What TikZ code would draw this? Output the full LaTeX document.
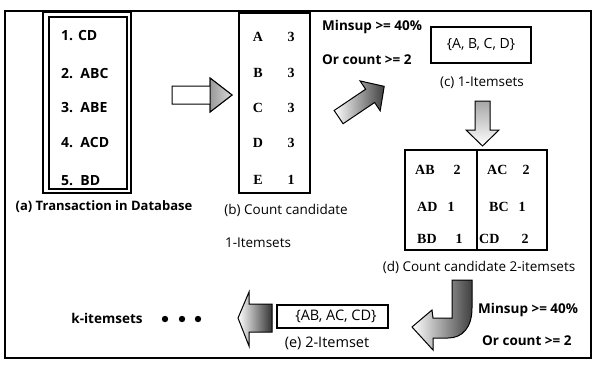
\documentclass[tikz,border=0pt]{standalone}
\usepackage{fontspec}
\setmainfont{Open Sans}
\newfontfamily\serifc{Liberation Serif}
\usetikzlibrary{shadings}
\begin{document}
\begin{tikzpicture}[x=1pt,y=-1pt,
  boxline/.style={draw=black, line width=1.2pt},
  itemtxt/.style={inner sep=0pt, anchor=west, font=\bfseries\fontsize{14}{14}\selectfont},
  cnttxt/.style={inner sep=0pt, font=\serifc\bfseries\fontsize{14}{14}\selectfont},
  captxt/.style={inner sep=0pt, font=\fontsize{13.5}{13.5}\selectfont},
  bcap/.style={inner sep=0pt, font=\bfseries\fontsize{13}{13}\selectfont},
  hollow/.style={draw=black, line width=1pt, line join=miter}]
\useasboundingbox (0,0) rectangle (592,365);
\fill[white] (0,0) rectangle (592,365);
\draw[line width=1.5pt] (5,11) rectangle (591,358);

% (a)
\draw[boxline] (43,12) rectangle (131,193);
\draw[boxline] (49,17) rectangle (127,189);
\node[itemtxt] (a1) at (61,36) {1. CD};
\node[itemtxt] (a2) at (61,74) {2.\ \ ABC};
\node[itemtxt] (a3) at (61,108) {3.\ \ ABE};
\node[itemtxt] (a4) at (61,143) {4.\ \ ACD};
\node[itemtxt] (a5) at (61,181) {5.\ \ BD};
\node[bcap] (capa) at (104,207) {(a) Transaction in Database};

% arrow a -> b
\path[hollow, fill=white] (172,86) -- (210,86) -- (210,78) -- (232,95) -- (210,112) -- (210,104) -- (172,104) -- cycle;
\shade[left color=gray!80, right color=gray!30, draw=black, line width=1pt, line join=miter] (210,78) -- (232,95) -- (210,112) -- cycle;

% (b)
\draw[boxline] (239,13) rectangle (310,193);
\foreach \l/\n/\y [count=\i] in {A/3/37,B/3/73,C/3/108,D/3/143,E/1/180}{
  \node[cnttxt] (bl\i) at (258,\y) {\l};
  \node[cnttxt] (bn\i) at (291,\y) {\n};
}
\node[captxt] (capb) at (286,210) {(b) Count candidate};
\node[captxt] (capb2) at (258,243) {1-Itemsets};

% threshold 1
\node[bcap, anchor=west, font=\bfseries\fontsize{13.5}{13.5}\selectfont] (ms1) at (322,27) {Minsup >= 40\%};
\node[bcap, anchor=west, font=\bfseries\fontsize{13.5}{13.5}\selectfont] (oc1) at (322,60) {Or count >= 2};

% diagonal arrow
\begin{scope}[shift={(361,102)}, rotate=34]
\path[hollow, left color=white, right color=gray!50!black] (-27,-8) -- (11,-8) -- (11,-18) -- (28,0) -- (11,18) -- (11,8) -- (-27,8) -- cycle;
\end{scope}

% (c)
\draw[boxline] (431,27) rectangle (531,63);
\node[captxt, font=\fontsize{14}{14}\selectfont] (c) at (481,45) {\{A, B, C, D\}};
\node[captxt] (capc) at (482,83) {(c) 1-Itemsets};

% down arrow
\path[hollow, top color=gray!70, bottom color=white] (475,101) -- (490,101) -- (490,130) -- (499,130) -- (482.5,146) -- (466,130) -- (475,130) -- cycle;

% (d)
\draw[boxline] (405,150) rectangle (547,250);
\draw[boxline] (477,150) -- (477,250);
\node[cnttxt, anchor=west] (d1) at (415,170) {AB};
\node[cnttxt] (d1n) at (457,170) {2};
\node[cnttxt, anchor=west] (d2) at (487,170) {AC};
\node[cnttxt] (d2n) at (526,170) {2};
\node[cnttxt, anchor=west] (d3) at (417,207) {AD};
\node[cnttxt] (d3n) at (451,207) {1};
\node[cnttxt, anchor=west] (d4) at (489,207) {BC};
\node[cnttxt] (d4n) at (522,207) {1};
\node[cnttxt, anchor=west] (d5) at (417,239) {BD};
\node[cnttxt] (d5n) at (459,239) {1};
\node[cnttxt, anchor=west] (d6) at (479,239) {CD};
\node[cnttxt] (d6n) at (525,239) {2};
\node[captxt] (capd) at (479,267) {(d) Count candidate 2-itemsets};

% curved arrow
\path[hollow, left color=white, right color=gray!50!black] (452,280) -- (472,280) -- (472,308) .. controls (472,328) and (462,338) .. (448,338) -- (433,338) -- (433,350) -- (412,327) -- (432,310) -- (433,318) -- (452,318) -- cycle;
\node[bcap, anchor=west, font=\bfseries\fontsize{13.5}{13.5}\selectfont] (ms2) at (478,310) {Minsup >= 40\%};
\node[bcap, anchor=west, font=\bfseries\fontsize{13.5}{13.5}\selectfont] (oc2) at (482,341) {Or count >= 2};

% (e)
\draw[boxline] (277,305) rectangle (388,328);
\node[captxt, font=\fontsize{14.5}{14.5}\selectfont] (e) at (336,316) {\{AB, AC, CD\}};
\node[captxt, font=\fontsize{14.5}{14.5}\selectfont] (cape) at (327,343) {(e) 2-Itemset};

% left arrow
\path[hollow, left color=white, right color=gray!40!black] (272,304) -- (249,304) -- (249,292) -- (238,318) -- (249,346) -- (249,332) -- (272,332) -- cycle;

% k-itemsets
\node[bcap, font=\bfseries\fontsize{13.5}{13.5}\selectfont] (k) at (107,318) {k-itemsets};
\foreach \x [count=\i] in {165,182,198}{
  \fill (\x,319) circle (3.2) coordinate (dot\i);
}
\end{tikzpicture}
\end{document}
